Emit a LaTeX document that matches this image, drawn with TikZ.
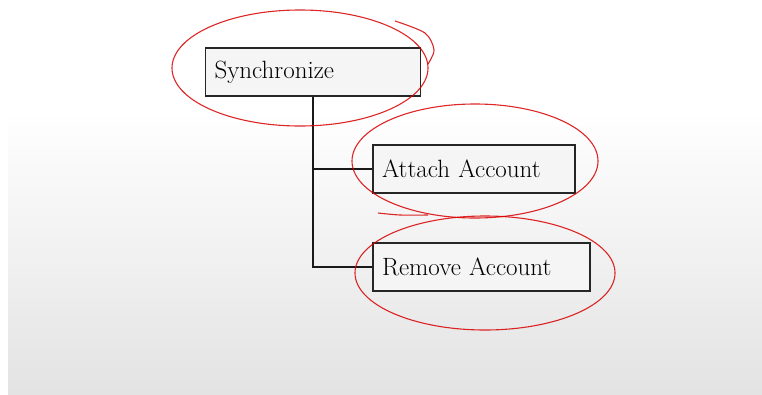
\documentclass[tikz,border=0pt]{standalone}
\tikzset{
  box/.style={rectangle, draw=black!85, line width=1.6pt, fill=black!4,
    inner xsep=9pt, minimum height=48pt, align=left,
    font=\fontsize{25}{30}\selectfont},
  link/.style={black!90, line width=1.8pt},
  scribble/.style={red!85!black, line width=1.1pt, opacity=0.85}
}
\begin{document}
\begin{tikzpicture}[x=1pt, y=-1pt]
    \fill[white] (0,0) rectangle (762,394);
    \shade[top color=white, bottom color=black!11] (8,110) rectangle (762,394);
    \useasboundingbox (0,0) rectangle (762,394);
    \node[box, text width=197pt] (sync) at (313,72) {Synchronize};
    \node[box, text width=184pt] (attach) at (474,169) {Attach Account};
    \node[box, text width=199pt] (remove) at (481.5,267) {Remove Account};
    \draw[link] (sync.south) |- (remove.west);
    \draw[link] (sync.south |- attach.west) -- (attach.west);
    % hand drawn marks
    \draw[scribble] (300,68) ellipse [x radius=128, y radius=58];
    \draw[scribble] plot[smooth] coordinates {(395,21) (425,33) (434,50) (428,64)};
    \draw[scribble] (475,161) ellipse [x radius=123, y radius=57];
    \draw[scribble] plot[smooth] coordinates {(378,213) (400,215) (428,215)};
    \draw[scribble] (485,273) ellipse [x radius=130, y radius=57];
\end{tikzpicture}
\end{document}
